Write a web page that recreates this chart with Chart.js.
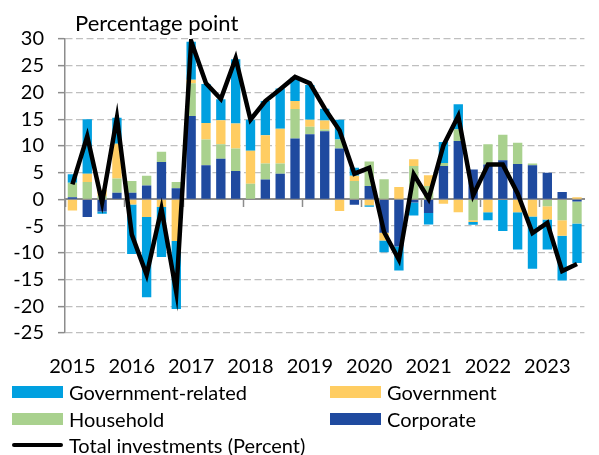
<!DOCTYPE html>
<html>
<head>
<meta charset="utf-8">
<script src="https://cdn.jsdelivr.net/npm/chart.js@4"></script>
<style>
  body { margin: 0; background: #fff; }
  #wrap { position: relative; width: 599px; height: 455px; font-family: Lato, sans-serif; color: #000; }
  #title { position: absolute; left: 75px; top: 12px; font-size: 22px; line-height: 1; }
  .lg { position: absolute; display: flex; align-items: center; font-size: 20px; line-height: 1; height: 22px; }
  .lg .sw { width: 51px; height: 12px; margin-right: 6px; }
  .lg .ln { width: 51px; height: 4px; border-radius: 2px; margin-right: 6px; }
</style>
</head>
<body>
<div id="wrap">
  <canvas id="chart" width="599" height="455"></canvas>
  <div id="title">Percentage point</div>
  <div id="legend"></div>
</div>
<script>
// quarterly contributions, percentage points
const quarters = [
  '2015Q1', '2015Q2', '2015Q3', '2015Q4', '2016Q1', '2016Q2', '2016Q3', '2016Q4',
  '2017Q1', '2017Q2', '2017Q3', '2017Q4', '2018Q1', '2018Q2', '2018Q3', '2018Q4',
  '2019Q1', '2019Q2', '2019Q3', '2019Q4', '2020Q1', '2020Q2', '2020Q3', '2020Q4',
  '2021Q1', '2021Q2', '2021Q3', '2021Q4', '2022Q1', '2022Q2', '2022Q3', '2022Q4',
  '2023Q1', '2023Q2', '2023Q3'
];
const yearLabels = ['2015', '2016', '2017', '2018', '2019', '2020', '2021', '2022', '2023'];

const corporate = [0.4, -3.3, -2.25, 1.25, 1.25, 2.6, 7.0, 2.1, 15.6, 6.4, 7.6, 5.3, 0.1, 3.7, 4.8, 11.4,
  12.2, 12.75, 9.5, -1.0, 2.5, -6.25, -8.8, -0.6, -2.55, 6.25, 10.9, 5.6, 6.5, 7.3, 6.6, 6.4,
  5.0, 1.4, -0.4];
const household = [2.7, 3.25, 0.6, 2.65, 2.2, 1.8, 1.9, 1.15, 6.1, 4.8, 2.7, 4.2, 2.8, 3.0, 1.9, 5.5,
  1.4, 0.3, 1.7, 3.45, 4.6, 3.75, 0, 6.25, 2.5, 0.55, 2.2, -3.9, 3.8, 4.8, 4.0, 0.3,
  -1.3, -3.9, -4.1];
const government = [-2.1, 1.55, 1.2, 6.5, -0.95, -3.3, -1.45, -7.8, 0.7, 3.1, 4.5, 4.7, 6.2, 5.3, 6.5, 1.5,
  1.3, 1.7, -2.2, 0.95, -1.1, -1.45, 2.3, 1.25, 2.0, -0.8, -2.4, -0.35, -2.4, 0, -2.4, -3.2,
  -2.45, -2.9, 0.4];
const govRelated = [1.6, 10.2, -0.45, 4.85, -9.25, -15.0, -9.35, -12.7, 7.1, 7.3, 3.95, 12.0, 5.8, 6.4, 7.55, 4.4,
  6.5, 2.2, 3.7, 1.5, -0.3, -2.2, -4.5, -2.4, -2.15, 3.95, 4.7, -0.5, -1.5, -5.9, -7.0, -9.8,
  -5.65, -8.4, -7.4];
const totalInvestments = [2.8, 11.8, -0.6, 15.3, -6.6, -14.1, -1.75, -17.4, 29.6, 21.7, 18.75, 26.4, 14.9, 18.4, 20.6, 22.9,
  21.7, 17.0, 12.9, 4.8, 5.9, -6.1, -11.3, 4.7, 0.1, 10.1, 15.6, 0.75, 6.5, 6.5, 1.1, -6.3,
  -4.4, -13.4, -12.1];

const AXIS_GREY = '#8c8c8c';
const GRID_GREY = '#bfbfbf';
const TEXT_FONT = { family: 'Lato', size: 20 };

const bar = (label, data, color) => ({
  type: 'bar', label, data, backgroundColor: color, stack: 'contrib',
  barPercentage: 0.63, categoryPercentage: 1, order: 1
});

const chart = new Chart(document.getElementById('chart'), {
  data: {
    labels: quarters,
    datasets: [
      bar('Corporate', corporate, '#1f4a9f'),
      bar('Household', household, '#a9d18e'),
      bar('Government', government, '#ffcd62'),
      bar('Government-related', govRelated, '#00a0e0'),
      {
        type: 'line', label: 'Total investments (Percent)', data: totalInvestments,
        borderColor: '#000', backgroundColor: '#000', borderWidth: 4.5,
        pointRadius: 0, tension: 0, order: 0, stack: 'total'
      }
    ]
  },
  options: {
    responsive: false,
    animation: false,
    layout: { padding: { top: 39, right: -2, bottom: 77, left: 0 } },
    plugins: { legend: { display: false }, tooltip: { enabled: false } },
    scales: {
      // year label on the first quarter of each year
      x: {
        type: 'category', stacked: true, offset: true,
        afterFit: (scale) => { scale.height = 45; },
        ticks: {
          autoSkip: false, maxRotation: 0, padding: 22, color: '#000', font: TEXT_FONT,
          callback: (v, i) => (i % 4 === 0 ? yearLabels[i / 4] : '')
        },
        grid: { display: false, drawTicks: false },
        border: { display: false }
      },
      xZero: {
        type: 'category', axis: 'x', position: { y: 0 }, offset: true, z: 1,
        ticks: { display: false },
        grid: {
          offset: true, drawOnChartArea: false, tickLength: 7, tickWidth: 1.5,
          tickColor: (c) => (c.index % 4 === 0 ? AXIS_GREY : 'transparent')
        },
        border: { color: AXIS_GREY, width: 2 }
      },
      y: {
        stacked: true, min: -25, max: 30,
        afterFit: (scale) => { scale.width = 65; },
        ticks: { stepSize: 5, autoSkip: false, padding: 14, color: '#000', font: TEXT_FONT },
        grid: {
          color: (c) => (c.tick && c.tick.value === 0 ? 'transparent' : GRID_GREY),
          lineWidth: 1.3, tickLength: 7, tickColor: AXIS_GREY, tickWidth: 1.5
        },
        border: { color: AXIS_GREY, width: 1.5, dash: [7, 3.5] }
      }
    }
  }
});

// legend in two columns, built from the datasets
const legendOrder = ['Government-related', 'Government', 'Household', 'Corporate', 'Total investments (Percent)'];
const legendPos = [[12, 392], [330, 392], [12, 419], [330, 419], [12, 445]];
const legendEl = document.getElementById('legend');
legendOrder.forEach((name, i) => {
  const ds = chart.data.datasets.find((d) => d.label === name);
  const item = document.createElement('div');
  item.className = 'lg';
  item.style.left = legendPos[i][0] + 'px';
  item.style.top = (legendPos[i][1] - 11) + 'px';
  const sw = document.createElement('span');
  sw.className = ds.type === 'line' ? 'ln' : 'sw';
  sw.style.background = ds.type === 'line' ? ds.borderColor : ds.backgroundColor;
  const tx = document.createElement('span');
  tx.textContent = ds.label;
  item.appendChild(sw);
  item.appendChild(tx);
  legendEl.appendChild(item);
});
</script>
</body>
</html>
